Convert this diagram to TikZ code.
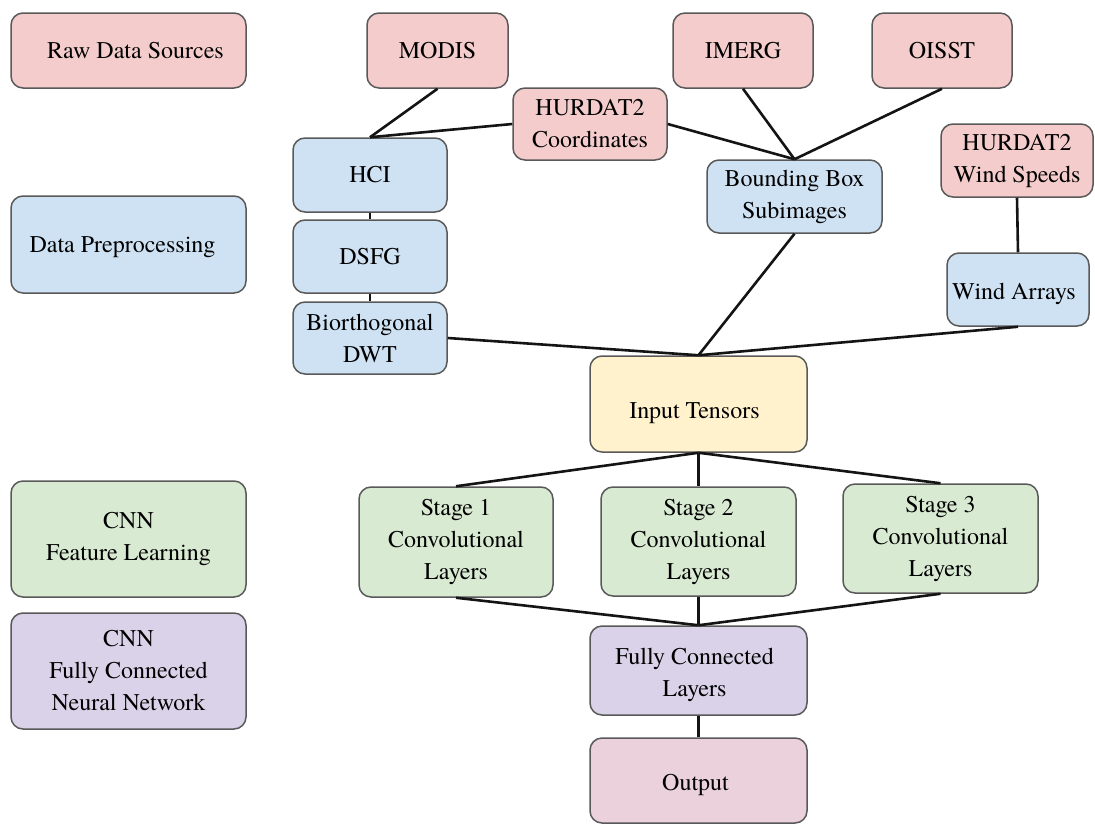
\documentclass[tikz,border=0pt]{standalone}
\usepackage{fontspec}
\setmainfont{texgyretermes}[Extension=.otf, UprightFont=*-regular, BoldFont=*-bold]
\definecolor{pinkc}{HTML}{F4CCCC}
\definecolor{bluec}{HTML}{CFE2F3}
\definecolor{yellowc}{HTML}{FFF2CC}
\definecolor{greenc}{HTML}{D9EAD3}
\definecolor{purplec}{HTML}{D9D2E9}
\definecolor{magentac}{HTML}{EAD1DC}
\definecolor{borderc}{HTML}{595959}
\definecolor{linec}{HTML}{141414}
\tikzset{
  box/.style={rectangle, rounded corners=12pt, draw=borderc, line width=1.5pt,
    align=center, inner sep=0pt, font=\fontsize{24}{32}\selectfont},
  txt/.style={align=center, inner sep=0pt, font=\fontsize{24}{32}\selectfont},
  conn/.style={draw=linec, line width=2.6pt}
}
\begin{document}
\begin{tikzpicture}[x=1pt,y=-1pt]
\useasboundingbox (0,0) rectangle (1095,825);
% legend
\node[box, fill=pinkc, minimum width=235pt, minimum height=75pt] (raw) at (128.5,50.5) {\hspace*{14pt}Raw Data Sources};
\node[box, fill=bluec, minimum width=235pt, minimum height=97pt] (prep) at (128.5,244.5) {};
\node[txt] (preplbl) at ([shift={(-6pt,-3pt)}]prep.center) {Data Preprocessing};
\node[box, fill=greenc, minimum width=235pt, minimum height=116pt] (cfl) at (128.5,539) {CNN\\Feature Learning};
\node[box, fill=purplec, minimum width=235pt, minimum height=116pt] (cfc) at (128.5,671) {CNN\\Fully Connected\\Neural Network};
% sources
\node[box, fill=pinkc, minimum width=141pt, minimum height=75pt] (modis) at (437.5,50.5) {MODIS};
\node[box, fill=pinkc, minimum width=140pt, minimum height=75pt] (imerg) at (743,50.5) {IMERG};
\node[box, fill=pinkc, minimum width=140pt, minimum height=75pt] (oisst) at (942,50.5) {OISST};
\node[box, fill=pinkc, minimum width=154pt, minimum height=72pt] (hcoord) at (590,124) {HURDAT2\\Coordinates};
\node[box, fill=pinkc, minimum width=152pt, minimum height=73pt] (hwind) at (1017,160.5) {HURDAT2\\Wind Speeds};
% preprocessing
\node[box, fill=bluec, minimum width=154pt, minimum height=74pt] (hci) at (370,175) {HCI};
\node[box, fill=bluec, minimum width=154pt, minimum height=73pt] (dsfg) at (370,256.5) {DSFG};
\node[box, fill=bluec, minimum width=154pt, minimum height=72pt] (dwt) at (370,338) {Biorthogonal\\DWT};
\node[box, fill=bluec, minimum width=175pt, minimum height=73pt] (bbox) at (794.5,196.5) {Bounding Box\\Subimages};
\node[box, fill=bluec, minimum width=142pt, minimum height=73pt] (warr) at (1018,289.5) {};
\node[txt] (warrlbl) at ([shift={(-4pt,-4pt)}]warr.center) {Wind Arrays};
% input
\node[box, fill=yellowc, minimum width=217pt, minimum height=96pt] (input) at (698.5,404) {};
\node[txt] (inputlbl) at ([shift={(-4pt,-9pt)}]input.center) {Input Tensors};
% stages
\node[box, fill=greenc, minimum width=194pt, minimum height=110pt] (s1) at (456,542) {Stage 1\\Convolutional\\Layers};
\node[box, fill=greenc, minimum width=195pt, minimum height=109pt] (s2) at (698.5,541.5) {Stage 2\\Convolutional\\Layers};
\node[box, fill=greenc, minimum width=195pt, minimum height=109pt] (s3) at (940.5,538.5) {Stage 3\\Convolutional\\Layers};
\node[box, fill=purplec, minimum width=217pt, minimum height=89pt] (fc) at (698.5,670.5) {};
\node[txt] (fclbl) at ([shift={(-4pt,-4pt)}]fc.center) {Fully Connected\\Layers};
\node[box, fill=magentac, minimum width=217pt, minimum height=85pt] (out) at (698.5,780.5) {};
\node[txt] (outlbl) at ([shift={(-3pt,-4pt)}]out.center) {Output};
% connectors
\draw[conn] (modis.south) -- (hci.north);
\draw[conn] (hcoord.west) -- (hci.north);
\draw[conn] (hcoord.east) -- (bbox.north);
\draw[conn] (imerg.south) -- (bbox.north);
\draw[conn] (oisst.south) -- (bbox.north);
\draw[conn] (hci.south) -- (dsfg.north);
\draw[conn] (dsfg.south) -- (dwt.north);
\draw[conn] (dwt.east) -- (input.north);
\draw[conn] (bbox.south) -- (input.north);
\draw[conn] (hwind.south) -- (warr.north);
\draw[conn] (warr.south) -- (input.north);
\draw[conn] (input.south) -- (s1.north);
\draw[conn] (input.south) -- (s2.north);
\draw[conn] (input.south) -- (s3.north);
\draw[conn] (s1.south) -- (fc.north);
\draw[conn] (s2.south) -- (fc.north);
\draw[conn] (s3.south) -- (fc.north);
\draw[conn] (fc.south) -- (out.north);
\end{tikzpicture}
\end{document}
